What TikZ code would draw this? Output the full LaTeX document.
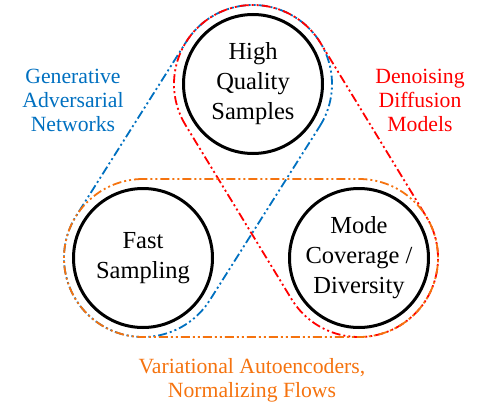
\documentclass[tikz,border=0pt]{standalone}
\usepackage{fontspec}
\setmainfont{Liberation Serif}
\usepackage{tikz}
\usetikzlibrary{calc,positioning}
\definecolor{ganblue}{RGB}{0,112,192}
\definecolor{ddmred}{RGB}{255,0,0}
\definecolor{vaeorange}{RGB}{245,115,15}

\begin{document}
\begin{tikzpicture}[
  x=1pt, y=1pt,
  prop/.style={draw=black, circle, line width=3pt, minimum size=139pt,
    inner sep=0pt, align=center, font=\fontsize{24.5}{30}\selectfont},
  family/.style={align=center, font=\fontsize{21.7}{24}\selectfont},
  hull/.style={line width=1.8pt,
    dash pattern=on 9pt off 3pt on 2pt off 3pt on 2pt off 3pt}
]
\useasboundingbox (0,0) rectangle (501,408);

\node[prop] (quality) at (253,324) {High\\Quality\\Samples};
\node[prop] (fast) at (143,150) {Fast\\Sampling};
\node[prop] (mode) at (359,150) {Mode\\Coverage /\\Diversity};

\node[family, text=ganblue] (gan) at (73,308) {Generative\\Adversarial\\Networks};
\node[family, text=ddmred] (ddm) at (420,308) {Denoising\\Diffusion\\Models};
\node[family, text=vaeorange] (vae) at (252,28) {Variational Autoencoders,\\Normalizing Flows};

% pairs of properties
\draw[hull, ganblue] let \p1=(quality.center), \p2=(fast.center),
  \n1={atan2(\y2-\y1,\x2-\x1)} in
  ($(\p1)+(\n1+90:79pt)$) arc[start angle=\n1+90, end angle=\n1+270, radius=79pt]
  -- ($(\p2)+(\n1-90:79pt)$) arc[start angle=\n1-90, end angle=\n1+90, radius=79pt]
  -- cycle;
\draw[hull, ddmred] let \p1=(quality.center), \p2=(mode.center),
  \n1={atan2(\y2-\y1,\x2-\x1)} in
  ($(\p1)+(\n1-90:79pt)$) arc[start angle=\n1-90, end angle=\n1-270, radius=79pt]
  -- ($(\p2)+(\n1+90:79pt)$) arc[start angle=\n1+90, end angle=\n1-90, radius=79pt]
  -- cycle;
\draw[hull, vaeorange] let \p1=(fast.center), \p2=(mode.center),
  \n1={atan2(\y2-\y1,\x2-\x1)} in
  ($(\p1)+(\n1+90:79pt)$) arc[start angle=\n1+90, end angle=\n1+270, radius=79pt]
  -- ($(\p2)+(\n1-90:79pt)$) arc[start angle=\n1-90, end angle=\n1+90, radius=79pt]
  -- cycle;
\end{tikzpicture}
\end{document}
